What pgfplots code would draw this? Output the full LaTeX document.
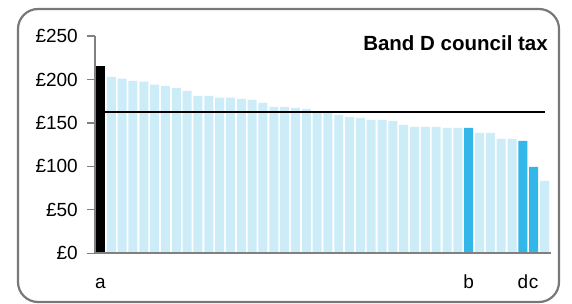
\documentclass[border=0pt]{standalone}
\usepackage{fontspec}
\setmainfont{Liberation Sans}
\usepackage{pgfplots}
\pgfplotsset{compat=1.18}
\definecolor{lightbar}{RGB}{204,236,248}
\definecolor{darkbar}{RGB}{51,183,232}
\definecolor{framegray}{RGB}{120,120,120}
\definecolor{axisgray}{RGB}{128,128,128}
\begin{document}
\begin{tikzpicture}
\draw[framegray, line width=2.2bp, rounded corners=20bp, fill=white] (18bp,2bp) rectangle (559bp,295bp);
\begin{axis}[
  at={(95bp,50.7bp)}, anchor=south west,
  scale only axis, width=456bp, height=217.3bp,
  xmin=0.492, xmax=42.6, ymin=0, ymax=250,
  axis x line*=bottom, axis y line*=left,
  axis line style={axisgray, line width=1.6bp, -},
  axis on top,
  ytick={0,50,...,250},
  yticklabel={£\pgfmathprintnumber{\tick}},
  /pgf/number format/assume math mode=true,
  tick align=outside,
  major tick length=8bp,
  ytick style={axisgray, line width=1.3bp},
  xtick={1,35,40,41},
  xticklabels={a,b,d,c},
  xtick style={draw=none},
  tick label style={font=\fontsize{19bp}{22bp}\selectfont},
  yticklabel style={inner sep=0pt, anchor=east, xshift=-9bp},
  xticklabel style={inner sep=0pt, anchor=base, yshift=-27bp},
  clip=false,
]
\addplot[ybar, bar width=0.83, bar shift=0pt, fill=lightbar, draw=none] coordinates {
(2,203) (3,201) (4,198.5) (5,197.4) (6,194) (7,192.7) (8,190.4) (9,187)
(10,181.2) (11,181.2) (12,179) (13,179) (14,177.7) (15,176.6) (16,173)
(17,168.5) (18,168.5) (19,167.3) (20,166.2) (21,163.5) (22,162) (23,159.3)
(24,157) (25,155.9) (26,153.6) (27,153.6) (28,152.4) (29,147.8) (30,145.5)
(31,145.5) (32,145.5) (33,144.3) (34,144.3) (36,138.6) (37,138.6)
(38,131.7) (39,131.7) (42,83.3)
};
\addplot[ybar, bar width=0.83, bar shift=0pt, fill=darkbar, draw=none] coordinates {
(35,144.3) (40,129.4) (41,99.4)
};
\addplot[black, line width=2bp] coordinates {(1,162) (42,162)};
\addplot[ybar, bar width=0.83, bar shift=0pt, fill=black, draw=none] coordinates {(1,215.8)};
\end{axis}
\node[anchor=base east, inner sep=0pt, font=\bfseries\fontsize{20.5bp}{24bp}\selectfont] at (548bp,253.3bp) {Band D council tax};
\pgfresetboundingbox
\useasboundingbox (0,0) rectangle (572bp,304bp);
\end{tikzpicture}
\end{document}
